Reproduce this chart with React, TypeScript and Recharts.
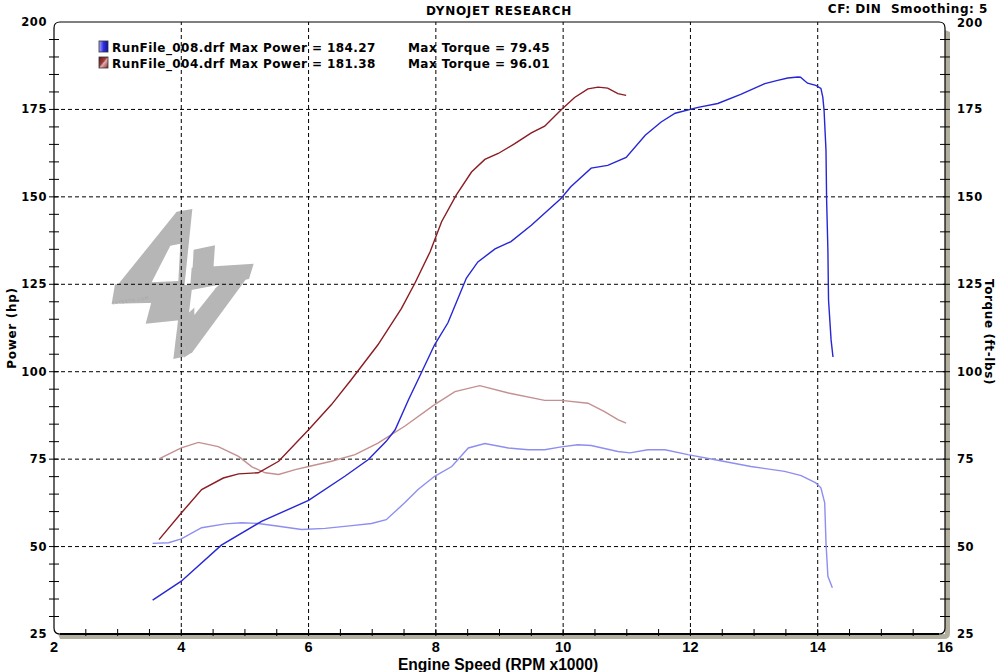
import React from 'react';
import { LineChart, Line, XAxis, YAxis, ReferenceLine, ReferenceArea } from 'recharts';

// ---- data ----
const run008PowerRpm = [3.55, 4.0, 4.63, 5.26, 6.0, 6.57, 6.94, 7.22, 7.36, 7.57, 7.72, 7.98, 8.19, 8.48, 8.66, 8.93, 9.18, 9.5, 9.97, 10.12, 10.44, 10.7, 10.99, 11.29, 11.54, 11.76, 12.12, 12.43, 12.79, 13.17, 13.37, 13.53, 13.69, 13.73, 13.84, 13.97, 14.05, 14.08, 14.1, 14.13, 14.14, 14.16, 14.17, 14.21, 14.24];
const run008PowerHp = [34.7, 40.1, 50.4, 57.2, 63.2, 70.1, 74.9, 80.1, 83.4, 92.0, 97.7, 107.7, 114.0, 126.8, 131.4, 135.1, 137.2, 141.9, 149.6, 152.9, 158.2, 159.0, 161.3, 167.6, 171.4, 173.9, 175.6, 176.7, 179.3, 182.4, 183.3, 184.0, 184.27, 184.2, 182.5, 181.9, 181.0, 178.5, 174.7, 163.3, 149.1, 134.8, 120.5, 109.1, 104.2];

const run008TorqueRpm = [3.55, 3.8, 4.0, 4.32, 4.69, 4.95, 5.21, 5.53, 5.89, 6.26, 6.68, 6.99, 7.22, 7.51, 7.72, 7.98, 8.25, 8.51, 8.77, 9.14, 9.45, 9.71, 9.97, 10.23, 10.44, 10.86, 11.05, 11.33, 11.6, 11.96, 12.43, 12.95, 13.48, 13.74, 13.97, 14.05, 14.11, 14.13, 14.16, 14.23];
const run008TorqueLb = [50.9, 51.1, 52.2, 55.4, 56.5, 56.8, 56.6, 55.8, 54.9, 55.2, 56.0, 56.6, 57.7, 62.5, 66.3, 70.1, 72.9, 78.2, 79.45, 78.2, 77.7, 77.7, 78.5, 79.1, 78.9, 77.2, 76.8, 77.7, 77.7, 76.3, 74.7, 72.9, 71.5, 70.3, 68.2, 66.8, 62.5, 51.1, 41.5, 38.2];

const run004PowerRpm = [3.65, 4.0, 4.32, 4.66, 4.9, 5.21, 5.53, 6.0, 6.36, 6.67, 7.09, 7.46, 7.67, 7.91, 8.09, 8.32, 8.56, 8.77, 8.98, 9.24, 9.5, 9.71, 9.97, 10.18, 10.39, 10.55, 10.7, 10.86, 10.99];
const run004PowerHp = [52.0, 59.6, 66.3, 69.6, 70.8, 71.1, 74.4, 83.4, 90.6, 97.7, 107.7, 118.1, 125.3, 134.3, 142.9, 150.5, 157.1, 160.7, 162.4, 165.2, 168.3, 170.2, 174.9, 178.4, 180.9, 181.38, 181.1, 179.5, 179.0];

const run004TorqueRpm = [3.65, 4.0, 4.27, 4.58, 4.9, 5.11, 5.32, 5.53, 5.79, 6.0, 6.36, 6.73, 7.09, 7.51, 7.98, 8.3, 8.69, 9.14, 9.71, 9.97, 10.39, 10.65, 10.86, 10.99];
const run004TorqueLb = [75.1, 78.2, 79.8, 78.6, 75.8, 72.8, 71.1, 70.6, 72.0, 72.9, 74.4, 76.3, 79.6, 84.4, 90.6, 94.3, 96.01, 93.9, 91.8, 91.8, 91.0, 88.6, 86.3, 85.3];

const xTicks = [2, 2.5, 3, 3.5, 4, 4.5, 5, 5.5, 6, 6.5, 7, 7.5, 8, 8.5, 9, 9.5, 10, 10.5, 11, 11.5, 12, 12.5, 13, 13.5, 14, 14.5, 15, 15.5, 16];
const xGrid = [4, 6, 8, 10, 12, 14];
const yTicks = [25, 30, 35, 40, 45, 50, 55, 60, 65, 70, 75, 80, 85, 90, 95, 100, 105, 110, 115, 120, 125, 130, 135, 140, 145, 150, 155, 160, 165, 170, 175, 180, 185, 190, 195, 200];
const yGrid = [50, 75, 100, 125, 150, 175];

const legendRows = [
  { file: 'RunFile_008.drf', power: 'Max Power = 184.27', torque: 'Max Torque = 79.45' },
  { file: 'RunFile_004.drf', power: 'Max Power = 181.38', torque: 'Max Torque = 96.01' },
];

const zip = (xs: number[], ys: number[]) => xs.map((x, i) => ({ rpm: x, v: ys[i] }));
const d008P = zip(run008PowerRpm, run008PowerHp);
const d008T = zip(run008TorqueRpm, run008TorqueLb);
const d004P = zip(run004PowerRpm, run004PowerHp);
const d004T = zip(run004TorqueRpm, run004TorqueLb);

const TICK_FONT = '"DejaVu Sans", Verdana, sans-serif';
const NARROW_FONT = '"Liberation Sans Narrow", "Liberation Sans", Arial, sans-serif';

const LeftTick = (p: any) => {
  const { x, y, payload } = p;
  const v = payload.value;
  const major = v % 25 === 0;
  return (
    <g>
      {v !== 25 && v !== 200 && <line x1={x - 5} x2={x + 5} y1={y} y2={y} stroke="#000" strokeWidth={1} />}
      {major && (
        <text x={x - 7} y={y} dy={4} textAnchor="end" fontFamily={TICK_FONT} fontWeight="bold" fontSize={11.5} letterSpacing={0.6} fill="#000">
          {v}
        </text>
      )}
    </g>
  );
};

const RightTick = (p: any) => {
  const { x, y, payload } = p;
  const v = payload.value;
  const major = v % 25 === 0;
  return (
    <g>
      {v !== 25 && v !== 200 && <line x1={x - 5} x2={x + 5} y1={y} y2={y} stroke="#000" strokeWidth={1} />}
      {major && (
        <text x={x + 12} y={y} dy={v === 200 ? 5 : 4} textAnchor="start" fontFamily={TICK_FONT} fontWeight="bold" fontSize={11.5} letterSpacing={0.6} fill="#000">
          {v}
        </text>
      )}
    </g>
  );
};

const BottomTick = (p: any) => {
  const { x, y, payload } = p;
  const v = payload.value;
  const major = v % 2 === 0;
  return (
    <g>
      {v !== 2 && v !== 16 && <line x1={x} x2={x} y1={y - 5} y2={y + 2} stroke="#000" strokeWidth={1} />}
      {major && (
        <text x={x} y={y + 18} textAnchor="middle" fontFamily={NARROW_FONT} fontWeight="bold" fontSize={14.5} fill="#000">
          {v}
        </text>
      )}
    </g>
  );
};

// watermark outline, in 1/3-pixel units relative to the plot's top-left corner
const WM_GRAY: number[][][] = [
  [[215, 20], [262, 12], [238, 245], [30, 250]],
  [[30, 238], [240, 238], [236, 292], [20, 296]],
  [[140, 288], [236, 285], [230, 345], [122, 356]],
  [[232, 240], [262, 240], [236, 455], [205, 462]],
  [[266, 134], [330, 121], [325, 192], [262, 200]],
  [[260, 188], [446, 176], [432, 222], [255, 256]],
  [[372, 212], [436, 205], [262, 442], [236, 458], [244, 330]],
];
const WM_HOLES: number[][][] = [
  [[196, 122], [226, 116], [220, 228], [140, 232]],
  [[268, 262], [330, 252], [268, 330]],
];

const PlotFrame = (p: any) => {
  const { x, y, width, height } = p;
  const r = 6;
  const R = x + width;
  const B = y + height;
  const sh = 5;
  const P = (pts: number[][]) => pts.map(([a, b]) => `${x + 51 + a / 3},${y + 183 + b / 3}`).join(' ');
  return (
    <g>
      <path
        d={`M ${R} ${y + 8} L ${R + sh} ${y + 10} L ${R + sh} ${B + sh - r} Q ${R + sh} ${B + sh} ${R + sh - r} ${B + sh} L ${x + 6} ${B + sh} L ${x + 4} ${B} L ${R} ${B} Z`}
        fill="#b3af9f"
      />
      <g>
        {WM_GRAY.map((pts, i) => (
          <polygon key={'g' + i} points={P(pts)} fill="#b6b6b6" />
        ))}
        {WM_HOLES.map((pts, i) => (
          <polygon key={'h' + i} points={P(pts)} fill="#fff" />
        ))}
        <text
          x={x + 58}
          y={y + 283}
          fontSize={4.2}
          fontFamily={TICK_FONT}
          fill="#a8a8a8"
          transform={`rotate(-9 ${x + 58} ${y + 283})`}
          letterSpacing={0.7}
        >
          44TEETH.COM
        </text>
      </g>
      <path
        d={`M ${x} ${B - r} L ${x} ${y + r} Q ${x} ${y} ${x + r} ${y} L ${R - r} ${y} Q ${R} ${y} ${R} ${y + r} L ${R} ${B - r} Q ${R} ${B} ${R - r} ${B} L ${x + r} ${B} Q ${x} ${B} ${x} ${B - r}`}
        fill="none"
        stroke="#000"
        strokeWidth={1.2}
      />
      <line x1={x + r} x2={R - r} y1={B} y2={B} stroke="#000" strokeWidth={2} />
    </g>
  );
};

export default function App() {
  return (
    <div style={{ position: 'absolute', left: 0, top: 0, width: 1000, height: 672, background: '#fff' }}>
      <LineChart width={1000} height={672} margin={{ top: 22, right: 0, bottom: 0, left: 0 }}>
        <XAxis
          dataKey="rpm"
          type="number"
          domain={[2, 16]}
          ticks={xTicks}
          interval={0}
          allowDataOverflow
          axisLine={false}
          tickLine={false}
          tickSize={0}
          tickMargin={0}
          height={38}
          tick={<BottomTick />}
        />
        <YAxis
          yAxisId="l"
          type="number"
          domain={[25, 200]}
          ticks={yTicks}
          interval={0}
          allowDataOverflow
          axisLine={false}
          tickLine={false}
          tickSize={0}
          tickMargin={0}
          width={54}
          tick={<LeftTick />}
        />
        <YAxis
          yAxisId="r"
          orientation="right"
          type="number"
          domain={[25, 200]}
          ticks={yTicks}
          interval={0}
          allowDataOverflow
          axisLine={false}
          tickLine={false}
          tickSize={0}
          tickMargin={0}
          width={55}
          tick={<RightTick />}
        />
        <ReferenceArea yAxisId="l" x1={2} x2={16} y1={25} y2={200} shape={<PlotFrame />} />
        {xGrid.map((g) => (
          <ReferenceLine key={'x' + g} yAxisId="l" x={g} stroke="#000" strokeWidth={1} strokeDasharray="4 3" />
        ))}
        {yGrid.map((g) => (
          <ReferenceLine key={'y' + g} yAxisId="l" y={g} stroke="#000" strokeWidth={1} strokeDasharray="4 3" />
        ))}
        <Line yAxisId="l" data={d008T} dataKey="v" type="linear" stroke="#8e8ef0" strokeWidth={1.4} dot={false} isAnimationActive={false} />
        <Line yAxisId="l" data={d004T} dataKey="v" type="linear" stroke="#c49090" strokeWidth={1.4} dot={false} isAnimationActive={false} />
        <Line yAxisId="l" data={d008P} dataKey="v" type="linear" stroke="#2626d6" strokeWidth={1.4} dot={false} isAnimationActive={false} />
        <Line yAxisId="l" data={d004P} dataKey="v" type="linear" stroke="#8a1c22" strokeWidth={1.4} dot={false} isAnimationActive={false} />
      </LineChart>
      <svg width={1000} height={672} style={{ position: 'absolute', left: 0, top: 0, pointerEvents: 'none' }}>
        <defs>
          <linearGradient id="gBlue" x1="0" x2="1" y1="0" y2="0">
            <stop offset="0" stopColor="#a8a8ff" />
            <stop offset="0.5" stopColor="#3030e0" />
            <stop offset="1" stopColor="#1010a0" />
          </linearGradient>
          <linearGradient id="gRed" x1="0" x2="1" y1="0" y2="1">
            <stop offset="0" stopColor="#6a1010" />
            <stop offset="0.45" stopColor="#a04040" />
            <stop offset="0.55" stopColor="#e0b0b0" />
            <stop offset="1" stopColor="#8a2020" />
          </linearGradient>
        </defs>
        <text x={499} y={15} textAnchor="middle" fontFamily={TICK_FONT} fontWeight="bold" fontSize={12} letterSpacing={0.7} fill="#000">
          DYNOJET RESEARCH
        </text>
        <text x={988} y={13} textAnchor="end" fontFamily={TICK_FONT} fontWeight="bold" fontSize={12} letterSpacing={0.55} fill="#000" style={{ whiteSpace: 'pre' }}>
          CF: DIN  Smoothing: 5
        </text>
        <text transform="translate(16 328) rotate(-90)" textAnchor="middle" fontFamily={TICK_FONT} fontWeight="bold" fontSize={12} letterSpacing={0.7} fill="#000">
          Power (hp)
        </text>
        <text transform="translate(985 332) rotate(90)" textAnchor="middle" fontFamily={TICK_FONT} fontWeight="bold" fontSize={12} letterSpacing={0.6} fill="#000">
          Torque (ft-lbs)
        </text>
        <text x={498} y={670} textAnchor="middle" fontFamily={NARROW_FONT} fontWeight="bold" fontSize={15.6} fill="#000">
          Engine Speed (RPM x1000)
        </text>
        {legendRows.map((row, i) => (
          <g key={row.file}>
            <rect x={99} y={41 + i * 16} width={9} height={11} fill={i === 0 ? 'url(#gBlue)' : 'url(#gRed)'} stroke="#333" strokeWidth={0.8} />
            <text x={112} y={52 + i * 16} fontFamily={TICK_FONT} fontWeight="bold" fontSize={12} letterSpacing={0.43} fill="#000">
              {row.file} {row.power}
            </text>
            <text x={408} y={52 + i * 16} fontFamily={TICK_FONT} fontWeight="bold" fontSize={12} letterSpacing={0.43} fill="#000">
              {row.torque}
            </text>
          </g>
        ))}
      </svg>
    </div>
  );
}
